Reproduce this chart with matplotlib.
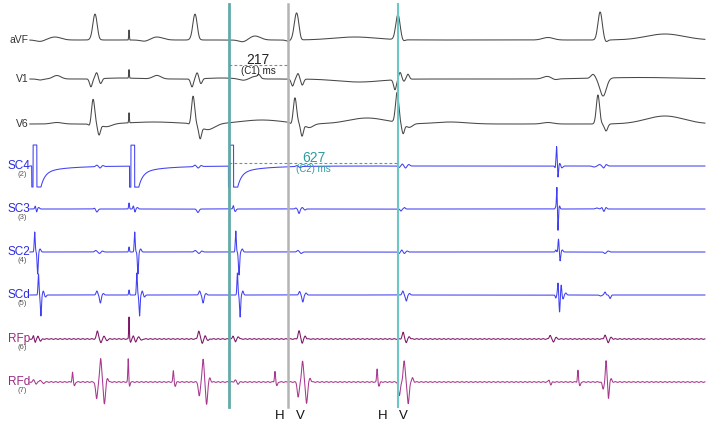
import numpy as np
import matplotlib
matplotlib.use('Agg')
import matplotlib.pyplot as plt

plt.rcParams['font.family'] = ['Liberation Sans', 'DejaVu Sans']

# ---- data (times in ms, amplitudes in screen px, widths in ms) ----
# intervals measured with the calipers
c1_ms = 217
c2_ms = 627
caliper_start = 729
hv_labels = ['H', 'V', 'H', 'V']
hv_times = [918, 992, 1299, 1373]

stim_times = [-1, 361, 727]
stim_height = 21

avf_events = [(30, -1.5, 15), (85, 3, 22), (222, -1.2, 5), (233, 26, 8.5), (247, -1.5, 5),
              (359, 10, 1.2),
              (418, -1.5, 15), (462, 3, 22), (592, -1.2, 5), (603, 26, 8.5), (617, -1.5, 5),
              (781, -2, 15), (825, 4, 20), (947, -1.2, 8), (979, 27, 8.5), (995, -1.5, 5),
              (1195, 3, 80), (1354, 25, 8), (1373, -1.5, 6),
              (1909, 2.5, 20), (2102, 28, 8), (2124, -2, 6), (2342, 6, 70)]

v1_events = [(30, -1, 10), (92, 3.5, 15), (218, -8, 5), (239, 6, 5), (254, -5, 5), (330, 1, 60),
             (359, 8.5, 1.2),
             (462, 3.5, 15), (592, -8, 5), (611, 6, 5), (625, -5, 5), (700, 1, 50),
             (781, -1.5, 15), (825, 2.5, 15), (840, 3, 5),
             (964, -7, 5), (984, 5.5, 5), (1000, -6, 5), (1210, -3, 80),
             (1343, -10, 5), (1362, 7, 5), (1376, -2, 4), (1391, 5, 5),
             (1906, 2.5, 15), (1935, -1, 10),
             (2076, 4, 8), (2113, -18, 12), (2250, 1.5, 150)]

v6_events = [(92, 1.5, 20), (215, -3, 5), (226, 25, 6), (248, -10, 5), (275, -3, 20), (450, 2, 90),
             (359, 10, 1.2),
             (585, -2, 5), (596, 28, 6), (622, -12, 5), (650, -6, 25), (850, 4, 80),
             (960, -2, 5), (973, 25, 6), (999, -12, 5), (1025, -4, 15), (1240, 6, 70),
             (1351, 30, 6), (1373, -10, 5), (1395, -4, 12), (1547, 2, 60),
             (1909, 1.5, 20), (2094, 29, 6), (2124, -7, 6), (2342, 8, 70)]

sc4_events = [(240, 1.5, 4), (252, -1.5, 4), (262, 1, 4),
              (603, 1.5, 4), (615, -1.5, 4), (626, 1, 4),
              (980, 1, 4), (992, -1, 4),
              (1358, -1.5, 4), (1370, 2, 4), (1382, -2, 4), (1394, 1.5, 4),
              (1936, -2, 2), (1941, 20, 2), (1946, -12, 2), (1953, 3, 3), (1960, -2, 4),
              (2080, -1, 6), (2100, 1.5, 5), (2115, -2, 4), (2125, 1.5, 4)]

sc3_events = [(12, 3, 2), (17, -3, 2), (25, 1.5, 3),
              (232, 1, 3), (240, -3, 4),
              (359, 6, 1.5), (375, 3, 2), (381, -3, 2), (390, 1.5, 3),
              (614, -3.5, 4),
              (745, 3.5, 2), (752, -2.5, 3),
              (976, 1, 3), (988, -4.5, 3), (1000, 1.5, 3), (1010, -1, 3),
              (1365, -2, 3), (1378, 1.5, 3),
              (1938, 2, 2), (1942, 22, 1.5), (1946, -22, 1.5), (1952, 3, 2),
              (2090, 1, 5), (2108, 1.5, 3), (2116, -2.5, 3), (2124, 1.5, 3)]

sc2_events = [(10, 20, 1.8), (21, -22, 2), (30, 3, 3),
              (236, 1.5, 4), (250, -1.5, 4), (260, 1, 4),
              (359, 5, 1.5), (380, 20, 1.8), (392, -22, 2), (402, 3, 3),
              (604, 1.5, 4), (618, -1.5, 4), (628, 1, 4),
              (754, 21, 1.8), (766, -23, 2.2), (778, 3, 3),
              (984, 1.5, 4), (996, -1.5, 4),
              (1358, -1.5, 3), (1368, 2, 3), (1378, -1.5, 3), (1388, 1, 3),
              (1938, 2, 2), (1948, 13, 1.8), (1954, -9, 2), (1962, 2, 3),
              (2120, -1.5, 4), (2132, 1, 4)]

scd_events = [(24, 21, 1.8), (33, -21, 2), (42, 4, 2.5), (50, -2, 3),
              (240, 4, 3), (253, -8, 3), (264, 1.5, 3),
              (359, 5, 1.5), (388, 22, 1.8), (398, -21, 2), (408, 4, 2.5), (416, -2, 3),
              (620, 4, 3), (633, -8, 3), (644, 1.5, 3),
              (760, 22, 1.8), (770, -22, 2), (780, 4, 2.5),
              (990, 3.5, 3), (1002, -7, 3), (1014, 2, 3),
              (1372, 4, 3), (1385, -6, 3), (1397, 1.5, 3),
              (1938, -3, 2), (1946, 12, 1.8), (1952, -17, 1.8), (1958, 10, 1.8), (1965, -4, 2.5), (1975, 2, 3),
              (2104, -1, 4), (2120, 3, 3), (2139, -3.5, 3)]

rfp_events = [(5, 3, 2), (12, -3, 2), (22, 2.5, 2.5), (32, -2, 3),
              (242, 8, 3.5), (255, -4, 3), (266, 3, 3), (277, -1.5, 3),
              (359, 22, 1.2), (365, -3, 2), (375, 3, 2.5), (384, -3, 2.5), (395, 2.5, 3), (405, -1.5, 3),
              (617, 8, 3.5), (630, -4, 3), (641, 3, 3), (652, -1.5, 3),
              (744, 3, 2.5), (753, -3, 2.5), (763, 2.5, 3),
              (988, 8, 3.5), (1000, -4, 3), (1011, 3, 3),
              (1373, 6.5, 3.5), (1385, -3.5, 3), (1396, 2.5, 3),
              (1917, 4, 3), (1929, -3, 3), (1939, 1.5, 3),
              (2120, 4, 3), (2132, -3.5, 3), (2143, 1.5, 3)]

rfd_events = [(6, 2, 3), (16, -2, 3), (30, 2, 3), (42, -1.5, 3),
              (150, 10, 1.8), (157, -4, 2.5),
              (239, -17, 3.5), (254, 23, 3.5), (268, -22, 3.5), (279, 4, 3),
              (356, 23, 1.5), (361, -4, 2),
              (523, 11, 1.8), (530, -4, 2.5),
              (619, -14, 3.5), (633, 23, 3.5), (646, -22, 3.5), (658, 4, 3),
              (752, 2, 3), (762, -2, 3),
              (899, 11, 1.8), (906, -4, 2.5),
              (985, -15, 3.5), (1001, 21, 3.5), (1016, -21, 3.5), (1029, 4, 3),
              (1277, 13, 1.8), (1284, -4, 2.5),
              (1359, -14, 3.5), (1377, 21, 3.5), (1392, -22, 3.5), (1408, 4, 3),
              (1913, 2, 2.5), (1920, -3, 2.5),
              (2020, 12, 1.8), (2027, -4, 2.5),
              (2113, -7, 3), (2124, 21, 2.5), (2133, -16, 2.5), (2143, 3, 3)]

channel_names = ['aVF', 'V1', 'V6', 'SC4', 'SC3', 'SC2', 'SCd', 'RFp', 'RFd']
channel_numbers = ['', '', '', '(2)', '(3)', '(4)', '(5)', '(6)', '(7)']

# ---- layout ----
MS_PER_PX = 3.7
X0 = 32
W, H = 715, 431


def px(x):
    return (x - X0) * MS_PER_PX


baselines = [41, 80, 125, 167, 210, 253, 296, 340, 383]
ecg_col = '#474747'
blue = '#4040f2'
rfp_col = '#7d1466'
rfd_col = '#a8388f'
trace_colors = [ecg_col] * 3 + [blue] * 4 + [rfp_col, rfd_col]
label_colors = ['#333333'] * 3 + ['#2a2ae0'] * 4 + ['#9b2a80'] * 2

t = np.arange(-8, 2490, 0.25)


def wave(events):
    y = np.zeros_like(t)
    for t0, a, w in events:
        y += a * np.exp(-0.5 * ((t - t0) / w) ** 2)
    return y


def stim_artifact(t0, h):
    y = np.zeros_like(t)
    y[(t >= t0) & (t < t0 + 5)] = -h
    y[(t >= t0 + 5) & (t < t0 + 19)] = h
    y[(t >= t0 + 19) & (t < t0 + 34)] = -h
    dt = t - (t0 + 34)
    m = dt >= 0
    y[m] += -h * (0.7 * np.exp(-dt[m] / 15) + 0.3 * np.exp(-dt[m] / 90))
    return y


signals = [wave(e) for e in (avf_events, v1_events, v6_events, sc4_events, sc3_events,
                             sc2_events, scd_events, rfp_events, rfd_events)]
for s0 in stim_times:
    signals[3] += stim_artifact(s0, stim_height)
# mains hum on the ablation catheter
hum = np.sin(2 * np.pi * t / 16.7)
signals[7] += 0.35 * hum
signals[8] += 0.4 * hum

fig = plt.figure(figsize=(W / 100, H / 100), dpi=100)
ax = fig.add_axes([0, 0, 1, 1])
ax.set_xlim(px(0), px(W))
ax.set_ylim(H, 0)
ax.axis('off')

for i, name in enumerate(channel_names):
    ax.plot(t, baselines[i] - signals[i], color=trace_colors[i], lw=0.75)
    if i < 3:
        ax.text(px(29), baselines[i] - 1, name, ha='right', va='center',
                fontsize=7.5, color=label_colors[i])
    else:
        ax.text(px(30), baselines[i] - 1, name, ha='right', va='center',
                fontsize=8.5, color=label_colors[i])
        ax.text(px(27), baselines[i] + 8, channel_numbers[i], ha='right', va='center',
                fontsize=5.5, color='#555555')

# calipers
c1_end = caliper_start + c1_ms
c2_end = caliper_start + c2_ms
ax.plot([caliper_start] * 2, [5, 408], color='#62aaa8', lw=2)
ax.plot([c1_end] * 2, [5, 408], color='#b4b4b4', lw=1.8)
ax.plot([c2_end] * 2, [5, 408], color='#6cc8c6', lw=1.5)

ax.plot([caliper_start, c1_end], [65.5, 65.5], ls=(0, (2.5, 2)), color='#888888', lw=0.8)
mid1 = (caliper_start + c1_end) / 2
ax.text(mid1, 60, str(c1_ms), ha='center', va='center', fontsize=10, color='#222222')
ax.text(mid1, 71, '(C1) ms', ha='center', va='center', fontsize=7, color='#222222')

ax.plot([caliper_start, c2_end], [164, 164], ls=(0, (2.5, 2)), color='#3aa6a6', lw=0.8)
mid2 = (caliper_start + c2_end) / 2
ax.text(mid2, 158, str(c2_ms), ha='center', va='center', fontsize=10, color='#2f9c9c')
ax.text(mid2, 169, '(C2) ms', ha='center', va='center', fontsize=7, color='#2f9c9c')

for lab, tm in zip(hv_labels, hv_times):
    ax.text(tm, 416, lab, ha='center', va='center', fontsize=9.5, color='#111111')

fig.savefig('out.png', dpi=100)
